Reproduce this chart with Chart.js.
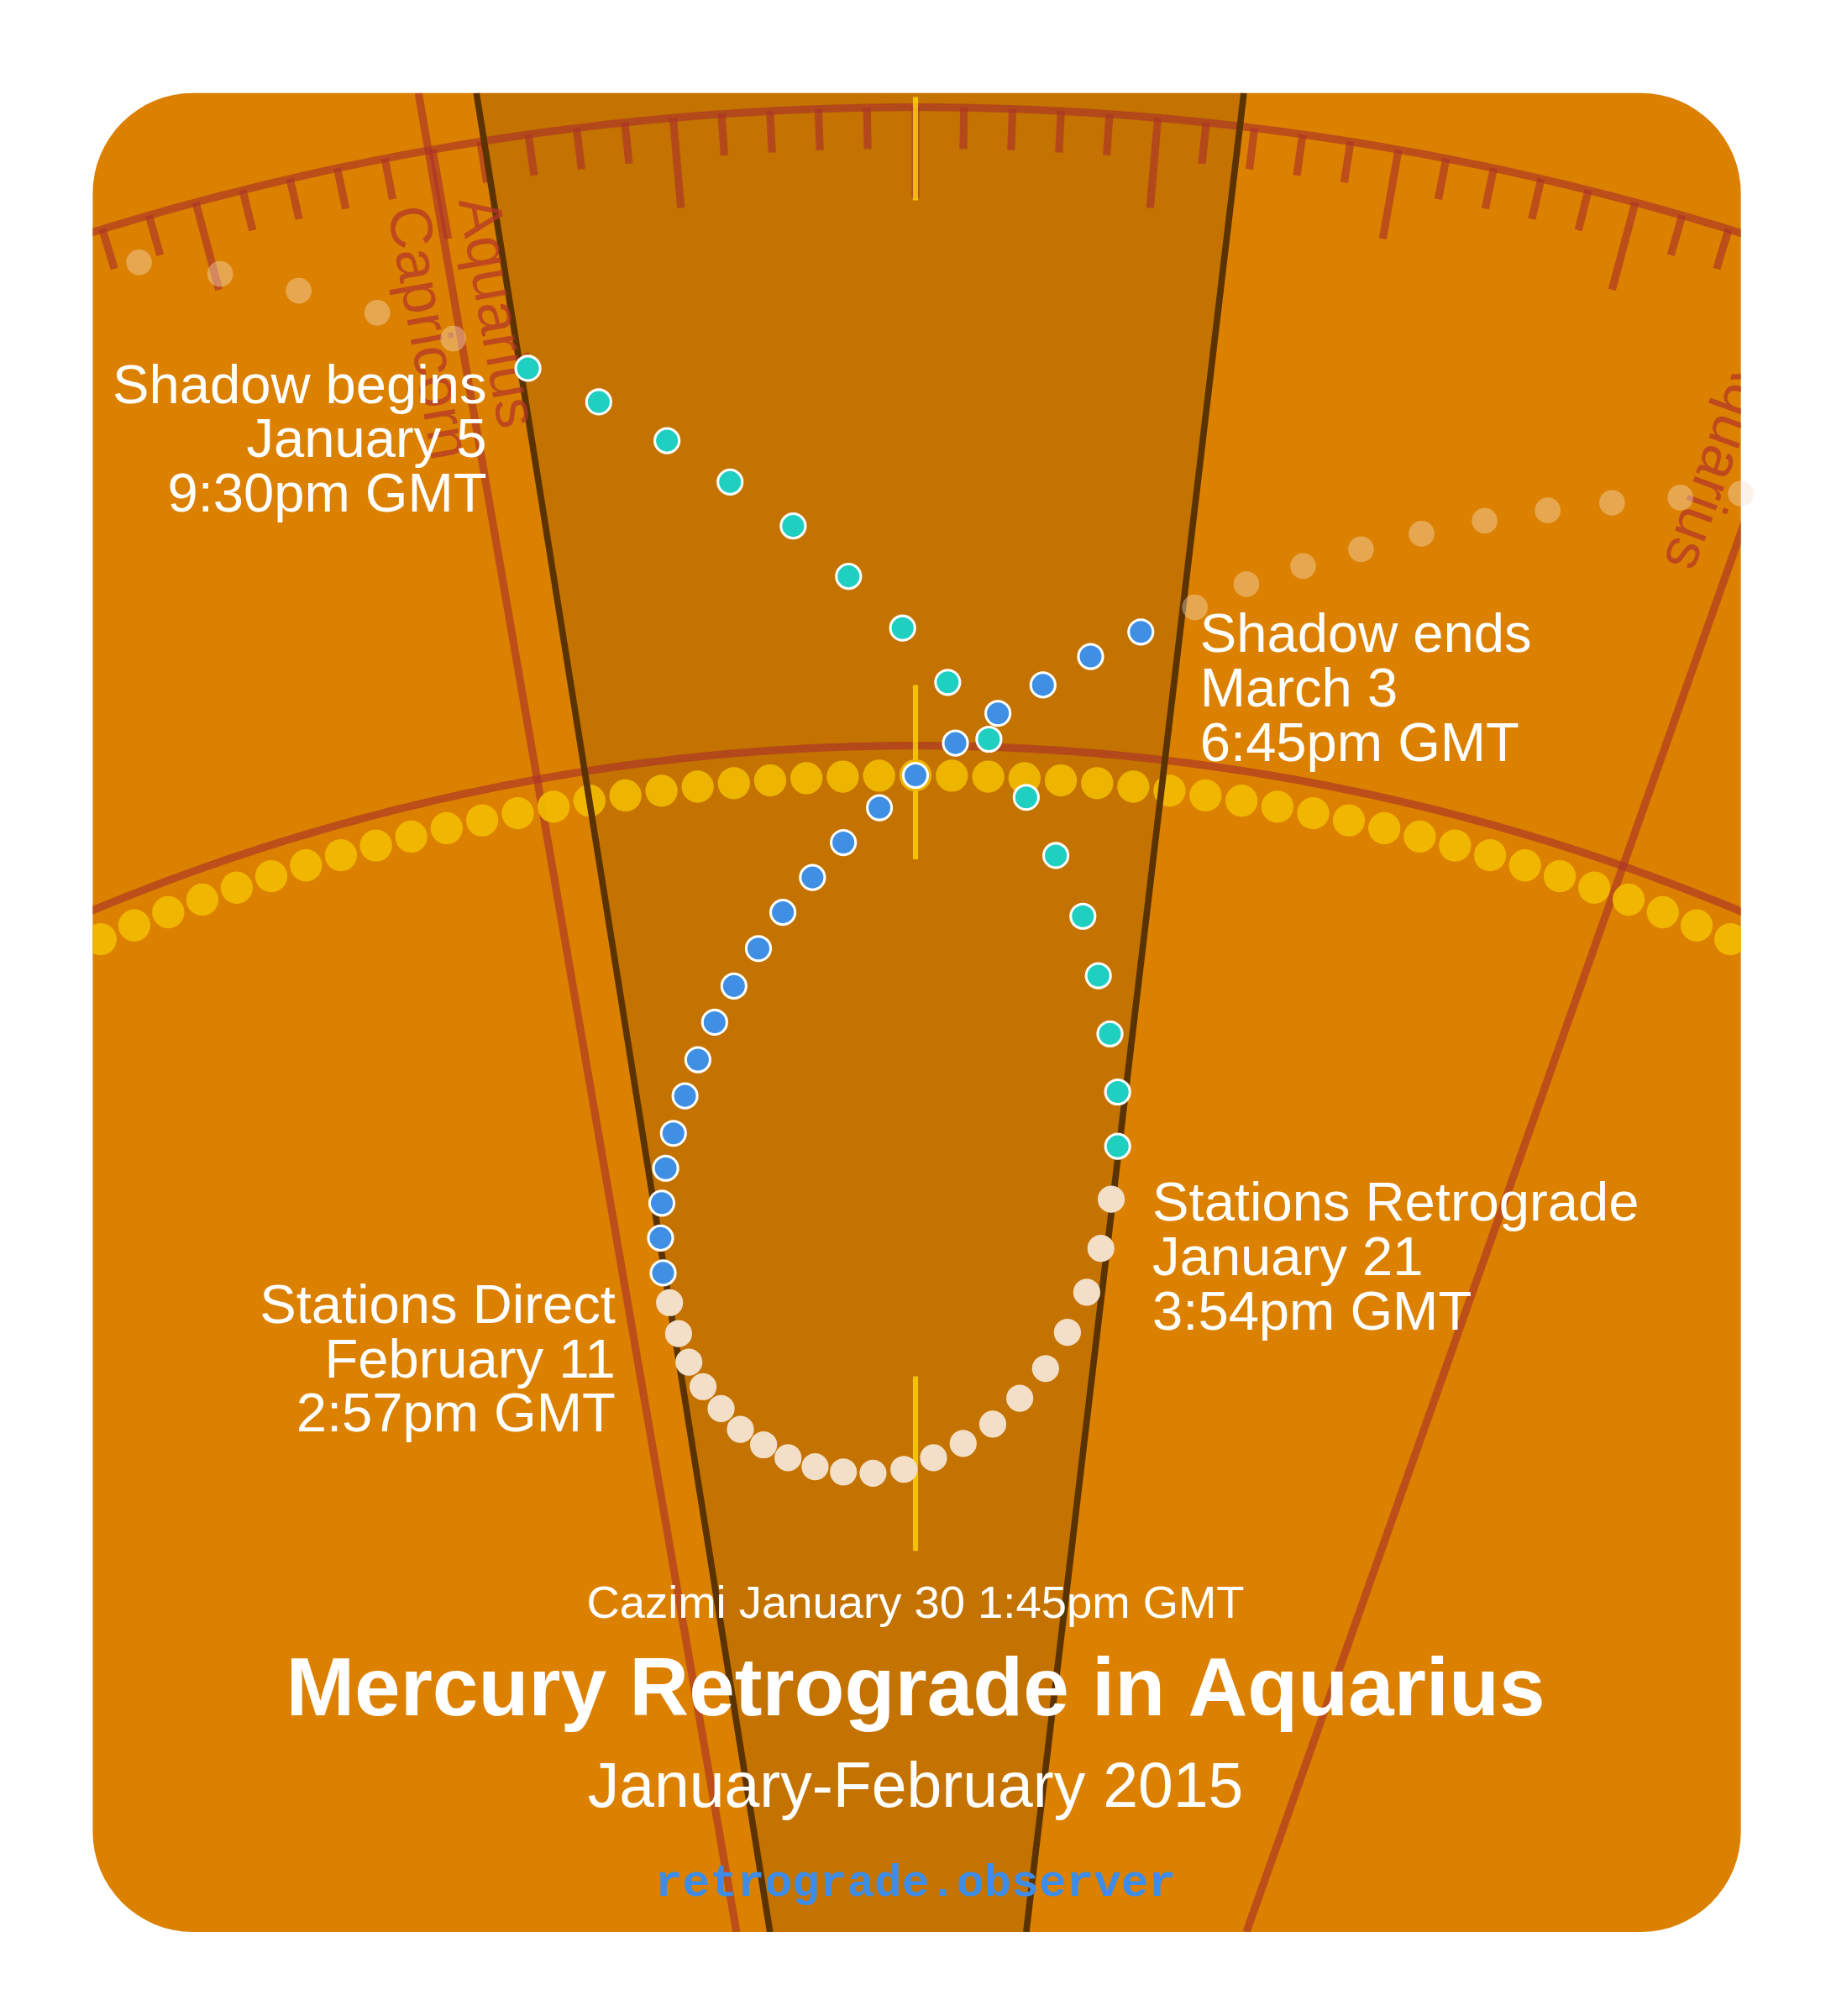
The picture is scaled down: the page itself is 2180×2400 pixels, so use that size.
<!DOCTYPE html>
<html>
<head>
<meta charset="utf-8">
<script src="https://cdn.jsdelivr.net/npm/chart.js@4.4.1/dist/chart.umd.min.js"></script>
<style>
  html, body { margin: 0; padding: 0; background: #fff; }
  #wrap { width: 2180px; height: 2400px; }
</style>
</head>
<body>
<div id="wrap"><canvas id="c" width="2180" height="2400"></canvas></div>
<script>
/* positions, in its 1422 x 1560 frame */
var shadowIn = [[410,285],[465,311],[518,341],[567,373],[616,407],[659,446],[701,486],[736,528],[768,572],[797,617],[820,662],[841,709],[853,755],[862,800],[868,845],[868,887]];
var retroPath = [[863,928],[855,966],[844,1000],[829,1031],[812,1059],[792,1082],[771,1102],[748,1117],[725,1128],[702,1137],[678,1140],[655,1139],[633,1135],[612,1128],[593,1118],[575,1106],[560,1090],[546,1073],[535,1054],[527,1032],[520,1008]];
var shadowOut = [[515,985],[513,958],[514,931],[517,904],[523,877],[532,848],[542,820],[555,791],[570,763],[589,734],[608,706],[631,679],[655,652],[683,625],[711,600],[742,575],[775,552],[810,530],[847,508],[886,489]];
var ghostDots = [[108,203],[171,212],[232,225],[293,242],[352,262],[928,470],[968,452],[1012,438],[1057,425],[1104,413],[1153,403],[1202,395],[1252,389],[1305,385],[1352,382]];

var labels = [
  { lines: ["Shadow begins", "January 5", "9:30pm GMT"], x: 378, y: 300, align: "right" },
  { lines: ["Shadow ends", "March 3", "6:45pm GMT"], x: 932, y: 493, align: "left" },
  { lines: ["Stations Retrograde", "January 21", "3:54pm GMT"], x: 895, y: 933, align: "left" },
  { lines: ["Stations Direct", "February 11", "2:57pm GMT"], x: 478, y: 1012, align: "right" }
];

var W = 1422, H = 1560;
var CX = 711, CY = 2243;
var ORANGE = "#dc8000", WEDGE = "#c47300", RED = "rgba(170,50,40,0.65)";
var FONT = "'Liberation Sans', Arial, sans-serif";

function pts(a) { return a.map(function (p) { return { x: p[0], y: p[1] }; }); }

var backdrop = {
  id: "backdrop",
  beforeDatasetsDraw: function (chart) {
    var ctx = chart.ctx, sx = chart.scales.x, sy = chart.scales.y;
    function X(v) { return sx.getPixelForValue(v); }
    function Y(v) { return sy.getPixelForValue(v); }
    var K = X(1) - X(0);
    function polar(r, deg) { var a = deg * Math.PI / 180; return [X(CX + r * Math.cos(a)), Y(CY + r * Math.sin(a))]; }
    function arcLine(r, d0, d1) {
      ctx.beginPath();
      for (var d = d0; d <= d1; d += 0.25) { var p = polar(r, d); if (d === d0) ctx.moveTo(p[0], p[1]); else ctx.lineTo(p[0], p[1]); }
      ctx.stroke();
    }
    ctx.save();
    ctx.beginPath();
    ctx.roundRect(X(72), Y(72), X(1352) - X(72), Y(1495) - Y(72), 78 * K);
    ctx.fillStyle = ORANGE; ctx.fill();
    ctx.clip();
    // wedge for the sign
    ctx.beginPath();
    ctx.moveTo(X(370), Y(72)); ctx.lineTo(X(966), Y(72)); ctx.lineTo(X(797), Y(1495)); ctx.lineTo(X(598), Y(1495)); ctx.closePath();
    ctx.fillStyle = WEDGE; ctx.fill();
    // other sign boundaries
    ctx.strokeStyle = RED; ctx.lineWidth = 6 * K;
    ctx.beginPath(); ctx.moveTo(X(325), Y(72)); ctx.lineTo(X(572), Y(1495)); ctx.stroke();
    ctx.beginPath(); ctx.moveTo(X(1445), Y(150)); ctx.lineTo(X(968), Y(1495)); ctx.stroke();
    // outer degree ring
    var R1 = 2160, R2 = 1666;
    arcLine(R1, -112, -68);
    for (var d = -19; d <= 19; d++) {
      var len = d % 5 === 0 ? 70 : 32;
      var a = polar(R1, -90 + d), b = polar(R1 - len, -90 + d);
      ctx.beginPath(); ctx.moveTo(a[0], a[1]); ctx.lineTo(b[0], b[1]); ctx.stroke();
    }
    arcLine(R2, -118, -62);
    // centre line segments (yellow)
    ctx.strokeStyle = "rgba(255,215,0,0.8)"; ctx.lineWidth = 4 * K;
    [[75, 155], [530, 665], [1065, 1200]].forEach(function (s) {
      ctx.beginPath(); ctx.moveTo(X(711), Y(s[0])); ctx.lineTo(X(711), Y(s[1])); ctx.stroke();
    });
    // sun path dots along ecliptic
    ctx.fillStyle = "rgba(240,184,0,0.95)";
    for (var i = -30; i <= 30; i++) {
      var p = polar(1643, -90 + i * 0.985);
      ctx.beginPath(); ctx.arc(p[0], p[1], 12.5 * K, 0, Math.PI * 2); ctx.fill();
    }
    // wedge edges
    ctx.strokeStyle = "#5a3300"; ctx.lineWidth = 5 * K;
    ctx.beginPath(); ctx.moveTo(X(370), Y(72)); ctx.lineTo(X(598), Y(1495)); ctx.stroke();
    ctx.beginPath(); ctx.moveTo(X(966), Y(72)); ctx.lineTo(X(797), Y(1495)); ctx.stroke();
    // sign names
    ctx.fillStyle = "rgba(180,55,40,0.75)";
    ctx.font = (46 * K) + "px " + FONT;
    ctx.textBaseline = "alphabetic";
    function rotText(t, x, y, ang) {
      ctx.save(); ctx.translate(X(x), Y(y)); ctx.rotate(ang * Math.PI / 180); ctx.fillText(t, 0, 0); ctx.restore();
    }
    rotText("Aquarius", 356, 155, 80);
    rotText("Capricorn", 301, 162, 80);
    rotText("Aquarius", 1354, 265, 110);
    ctx.restore();
  },
  afterDatasetsDraw: function (chart) {
    var ctx = chart.ctx, sx = chart.scales.x, sy = chart.scales.y;
    function X(v) { return sx.getPixelForValue(v); }
    function Y(v) { return sy.getPixelForValue(v); }
    var K = X(1) - X(0);
    ctx.save();
    ctx.fillStyle = "#fff";
    ctx.textBaseline = "middle";
    ctx.font = (42.5 * K) + "px " + FONT;
    labels.forEach(function (l) {
      ctx.textAlign = l.align;
      l.lines.forEach(function (t, i) { ctx.fillText(t, X(l.x), Y(l.y + i * 42)); });
    });
    ctx.textAlign = "center";
    ctx.font = (35.5 * K) + "px " + FONT;
    ctx.fillText("Cazimi January 30 1:45pm GMT", X(711), Y(1242));
    ctx.font = "bold " + (64 * K) + "px " + FONT;
    ctx.fillText("Mercury Retrograde in Aquarius", X(711), Y(1310));
    ctx.font = (49 * K) + "px " + FONT;
    ctx.fillText("January-February 2015", X(711), Y(1385));
    ctx.font = "bold " + (35.5 * K) + "px 'Liberation Mono', 'DejaVu Sans Mono', monospace";
    ctx.fillStyle = "#3d8de8";
    ctx.fillText("retrograde.observer", X(711), Y(1458));
    ctx.restore();
  }
};

var S = 2180 / W;
function dotSet(data, fill, border, r) {
  return { data: pts(data), backgroundColor: fill, borderColor: border, borderWidth: 2 * S, pointRadius: r * S, pointHoverRadius: r * S };
}

new Chart(document.getElementById("c"), {
  type: "scatter",
  data: {
    datasets: [
      dotSet(ghostDots, "rgba(245,225,200,0.4)", "rgba(0,0,0,0)", 10),
      dotSet(retroPath, "#f3dfc8", "#f3dfc8", 9.5),
      dotSet(shadowIn, "#1fcfc0", "#ffffff", 9.5),
      dotSet(shadowOut, "#3f8fe4", "#ffffff", 9.5)
    ]
  },
  options: {
    responsive: false, animation: false, devicePixelRatio: 1,
    layout: { padding: 0, autoPadding: false },
    plugins: { legend: { display: false }, tooltip: { enabled: false } },
    scales: {
      x: { type: "linear", min: 0, max: W, display: false },
      y: { type: "linear", min: 0, max: H, reverse: true, display: false }
    }
  },
  plugins: [backdrop]
});
</script>
</body>
</html>
